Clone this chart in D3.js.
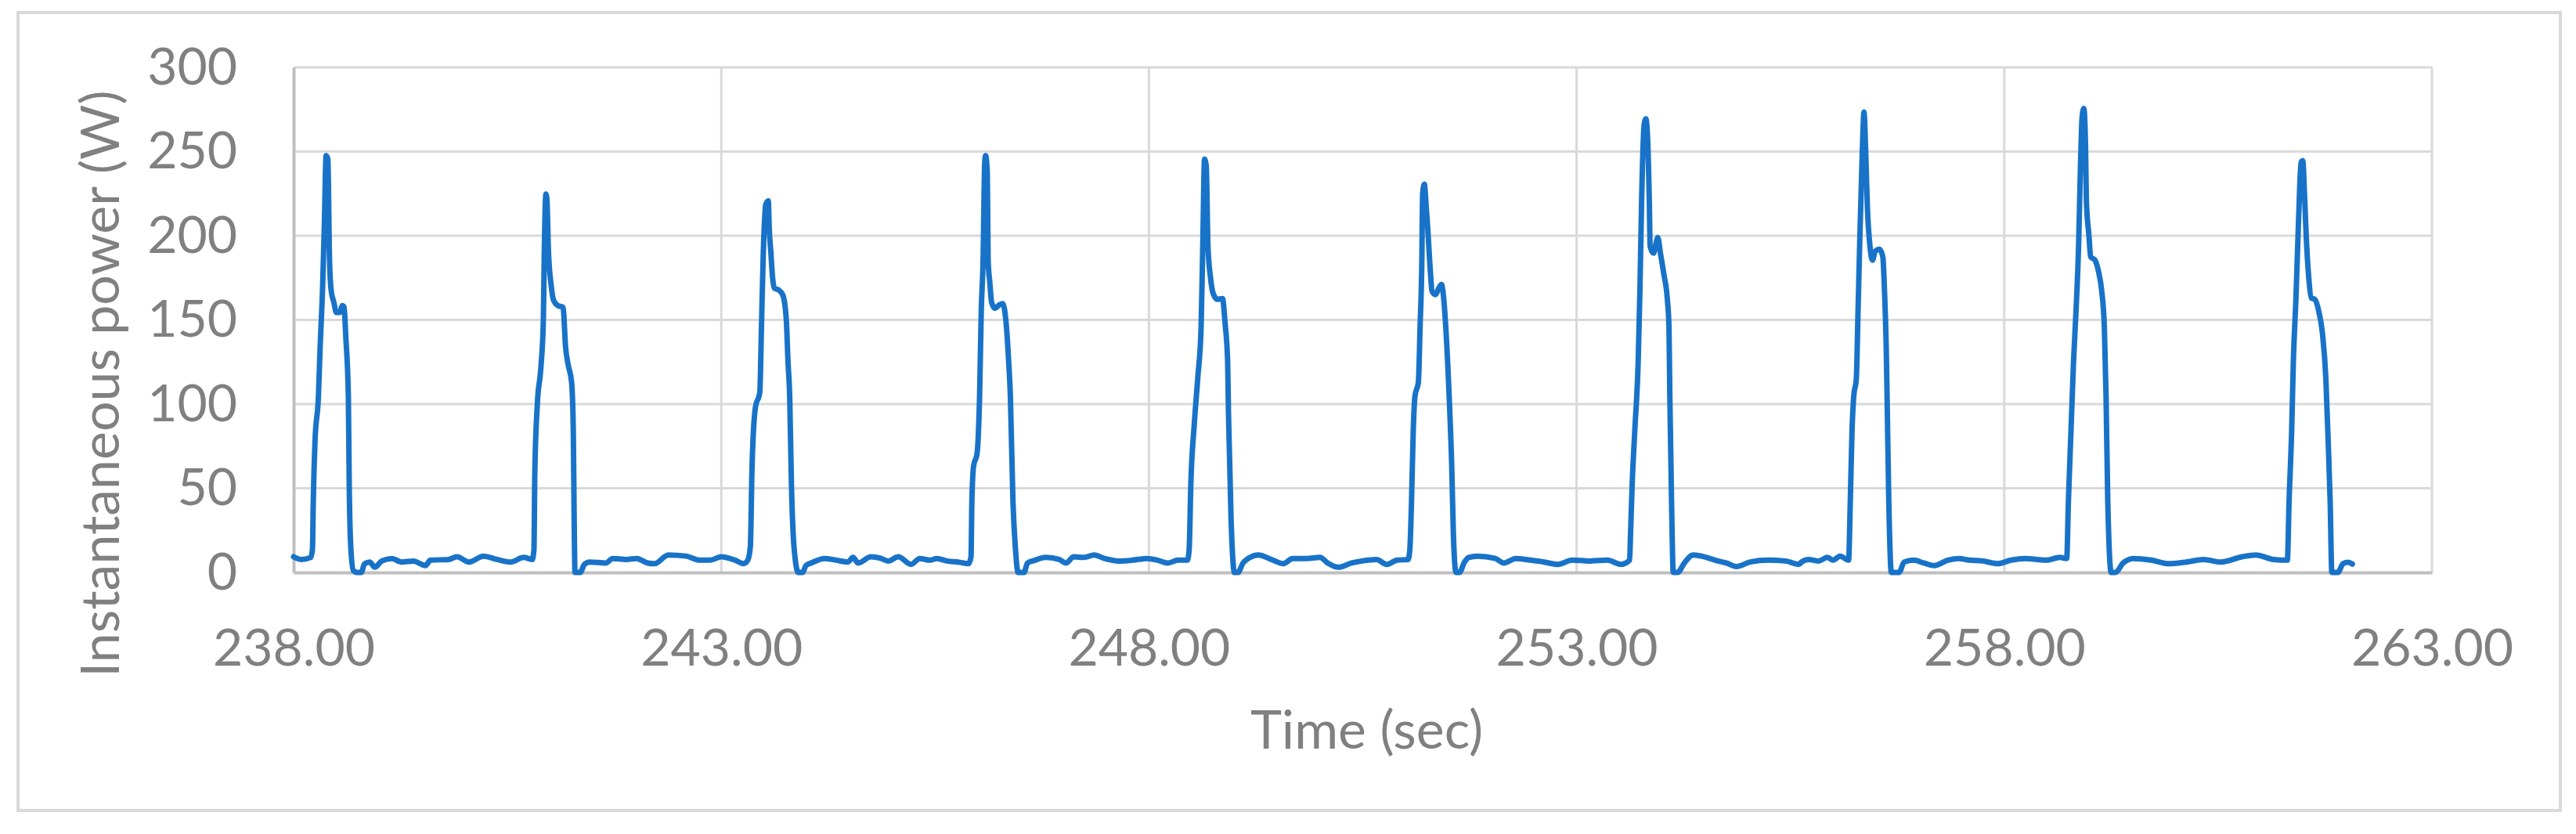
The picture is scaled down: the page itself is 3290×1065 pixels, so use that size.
<!DOCTYPE html>
<html>
<head>
<meta charset="utf-8">
<script src="https://cdn.jsdelivr.net/npm/d3@7/dist/d3.min.js"></script>
<style>
  html, body { margin: 0; padding: 0; background: #ffffff; }
  svg { display: block; }
  text { font-family: Lato, "Open Sans", sans-serif; fill: #808080; }
</style>
</head>
<body>
<svg id="chart" width="3290" height="1065"></svg>
<script>
// ---- data ----
const xTicks = [238, 243, 248, 253, 258, 263];
const yTicks = [0, 50, 100, 150, 200, 250, 300];
const xLabel = "Time (sec)";
const yLabel = "Instantaneous power (W)";

const timeSec = [
  238.00,238.09,238.20,238.22,238.23,238.25,238.29,238.31,238.34,238.36,238.38,238.40,238.42,238.44,238.47,238.50,238.54,238.57,238.59,238.61,238.64,238.65,238.67,238.70,238.74,238.79,238.83,238.89,238.95,239.03,239.15,239.26,239.40,239.54,239.60,239.81,239.91,240.05,240.22,240.38,240.54,240.69,240.79,
  240.81,240.82,240.85,240.89,240.92,240.93,240.95,240.96,240.98,241.01,241.04,241.09,241.15,241.18,241.21,241.25,241.27,241.28,241.29,241.35,241.40,241.46,241.65,241.73,241.89,242.01,242.14,242.22,242.38,242.59,242.75,242.87,243.00,243.16,243.26,
  243.31,243.34,243.36,243.40,243.45,243.47,243.49,243.52,243.55,243.56,243.58,243.60,243.62,243.67,243.72,243.76,243.78,243.80,243.82,243.85,243.90,243.95,243.99,244.05,244.21,244.34,244.48,244.54,244.60,244.75,244.87,244.95,245.07,245.22,245.32,245.44,245.52,245.64,245.77,245.89,
  245.92,245.93,245.95,245.99,246.02,246.04,246.06,246.08,246.09,246.11,246.12,246.14,246.16,246.20,246.25,246.29,246.33,246.36,246.38,246.41,246.44,246.47,246.54,246.58,246.67,246.79,246.95,247.03,247.12,247.24,247.36,247.48,247.65,247.81,247.98,248.10,248.22,248.34,248.45,
  248.47,248.49,248.53,248.57,248.61,248.63,248.65,248.67,248.69,248.72,248.75,248.80,248.86,248.89,248.92,248.93,248.96,249.00,249.04,249.10,249.16,249.28,249.45,249.57,249.68,249.84,250.00,250.09,250.21,250.37,250.49,250.66,250.78,250.90,251.03,
  251.05,251.07,251.09,251.11,251.15,251.17,251.19,251.20,251.22,251.24,251.26,251.29,251.31,251.35,251.39,251.42,251.45,251.47,251.51,251.54,251.56,251.59,251.63,251.69,251.74,251.84,252.05,252.15,252.29,252.46,252.62,252.78,252.95,253.15,253.36,253.52,253.62,
  253.63,253.65,253.68,253.72,253.74,253.76,253.79,253.81,253.83,253.85,253.86,253.90,253.93,253.95,253.98,254.02,254.06,254.08,254.09,254.11,254.13,254.18,254.26,254.36,254.46,254.62,254.75,254.87,255.03,255.24,255.44,255.60,255.63,255.71,255.83,255.93,256.00,256.08,256.18,
  256.20,256.22,256.24,256.27,256.29,256.31,256.34,256.36,256.38,256.40,256.43,256.46,256.49,256.54,256.58,256.60,256.62,256.63,256.65,256.68,256.77,256.83,256.94,257.06,257.18,257.34,257.47,257.59,257.75,257.92,258.08,258.24,258.49,258.65,258.73,
  258.75,258.78,258.81,258.84,258.87,258.89,258.91,258.93,258.95,258.96,258.99,259.01,259.06,259.10,259.14,259.17,259.19,259.21,259.25,259.30,259.39,259.51,259.72,259.92,260.13,260.33,260.53,260.78,260.94,261.15,261.31,
  261.33,261.36,261.38,261.41,261.44,261.47,261.49,261.51,261.53,261.56,261.59,261.63,261.68,261.72,261.76,261.79,261.81,261.83,261.90,261.96,262.02,262.07
];

const powerW = [
  9.3,7.7,8.9,13.5,42.5,77.7,104.6,133.6,171,208,247.6,245.5,185,167,160.6,154.4,154.4,158.5,157.5,140,104.6,52.8,13.5,1,0,0,5.2,6.2,3.1,6.8,8.3,6.2,6.8,4.1,7.3,7.7,9.3,6.2,9.7,7.7,6.2,8.9,7.7,
  13.5,59,100.5,121,150,187.5,224.8,222.8,190,171,161.6,158.5,157.5,133.6,123.3,113,84,32,0,0,4.8,6.2,5.6,8.3,7.7,8.3,5.6,5.2,10.4,9.7,7.3,7.3,9.3,7.3,5.2,
  7.3,15.5,63.2,98.4,106.7,146,187.5,218.6,220.7,205,190,175,168.9,167.8,164.7,150.2,125.4,104.6,52.8,15.5,0,0,4.1,5.6,8.3,7.3,6.2,8.9,5.6,9.3,8.3,6.8,9.3,4.8,8.3,7.3,8.3,6.8,6.2,5.2,
  9.3,42.5,63.2,70.5,104.6,156.4,183.4,243.5,247.6,237.3,185,172,160.6,156.9,158.9,159.6,148.2,125.4,104.6,42.5,13.5,0,0,5.6,7.3,8.9,7.7,5.6,9.3,8.9,10.4,8.3,6.8,7.3,8.3,7.3,5.6,7.3,7.3,
  13.5,52.8,88,115,146,195.8,245.5,241.4,193.7,175,165.8,162.2,162.7,148.2,125.4,94.3,32.1,0,0,5.6,8.3,10.4,7.3,5.2,8.3,8.3,8.9,5.6,3.1,5.6,6.8,7.7,4.8,7.3,7.7,
  13.5,42.5,84,104.6,113,146,183.4,224.8,230.6,218.6,204,179,167,165,169,171,160.6,146,104.6,63.2,21.8,0,0,6.2,8.9,9.7,8.3,5.6,8.3,7.3,6.2,4.8,7.3,6.8,7.3,4.8,7.3,
  21.8,52.8,84,125.4,166.8,220.7,266,269.4,258,220.7,193.7,189.6,195.8,198.9,189.6,177.2,162.7,146,104.6,42.5,0,0,5.6,10.4,9.7,7.3,5.6,3.5,6.2,7.3,6.8,4.8,6.2,7.7,6.8,8.9,7.3,9.7,7.3,
  42.5,84,104.6,115,154.4,195.8,249.7,273.5,249.7,216.5,193.7,185.5,190.6,192,187.5,166.8,133.6,104.6,42.5,0,0,6.2,7.3,5.6,4.1,7.3,8.3,7.3,6.8,5.2,7.3,8.3,7.3,8.9,8.3,
  42.5,84,125.4,156.4,195.8,239.3,270.4,275.6,253.8,220.7,200,187.5,185.5,179.2,166.8,146,104.6,42.5,0,0,5.6,8.3,7.3,5.2,6.2,7.7,6.2,9.3,10.4,7.7,7.3,
  42.5,84,125.4,162.7,208.2,243.5,244.5,225,200,175,163,162.2,154.4,142,115,73.6,42.5,0,0,5.2,6,5
];

// ---- layout ----
const plot = { left: 375, right: 3106, top: 86, bottom: 731 };
const FONT = "Lato, 'Open Sans', sans-serif";

const svg = d3.select("#chart");

// outer chart border
svg.append("rect")
  .attr("x", 23).attr("y", 16)
  .attr("width", 3247).attr("height", 1019)
  .attr("fill", "#ffffff")
  .attr("stroke", "#d9d9d9")
  .attr("stroke-width", 4);

const x = d3.scaleLinear().domain([238, 263]).range([plot.left, plot.right]);
const y = d3.scaleLinear().domain([0, 300]).range([plot.bottom, plot.top]);

// horizontal gridlines
svg.append("g")
  .selectAll("line")
  .data(yTicks.filter(d => d > 0))
  .join("line")
  .attr("x1", plot.left).attr("x2", plot.right)
  .attr("y1", d => y(d)).attr("y2", d => y(d))
  .attr("stroke", "#d9d9d9").attr("stroke-width", 3);

// vertical gridlines
svg.append("g")
  .selectAll("line")
  .data(xTicks.filter(d => d > 238))
  .join("line")
  .attr("x1", d => x(d)).attr("x2", d => x(d))
  .attr("y1", plot.top).attr("y2", plot.bottom)
  .attr("stroke", "#d9d9d9").attr("stroke-width", 3);

// axes
const yAxis = d3.axisLeft(y).tickValues(yTicks).tickSize(0).tickPadding(72).tickFormat(d3.format("d"));
const gy = svg.append("g").attr("transform", `translate(${plot.left},0)`).call(yAxis);
gy.select(".domain").attr("stroke", "#bfbfbf").attr("stroke-width", 4);
gy.selectAll("text").attr("font-size", 66).attr("fill", "#808080").attr("font-family", FONT);

const xAxis = d3.axisBottom(x).tickValues(xTicks).tickSize(0).tickPadding(72).tickFormat(d3.format(".2f"));
const gx = svg.append("g").attr("transform", `translate(0,${plot.bottom})`).call(xAxis);
gx.select(".domain").attr("stroke", "#bfbfbf").attr("stroke-width", 4);
gx.selectAll("text").attr("font-size", 66).attr("fill", "#808080").attr("font-family", FONT)
  .attr("dy", "0.71em");

// data line
const data = timeSec.map((t, i) => ({ t, v: powerW[i] }));
const line = d3.line().x(d => x(d.t)).y(d => y(d.v)).curve(d3.curveMonotoneX);
svg.append("path")
  .datum(data)
  .attr("d", line)
  .attr("fill", "none")
  .attr("stroke", "#1873c8")
  .attr("stroke-width", 7)
  .attr("stroke-linejoin", "round")
  .attr("stroke-linecap", "round");

// axis titles
svg.append("text")
  .attr("x", (plot.left + plot.right) / 2 + 5)
  .attr("y", 956)
  .attr("text-anchor", "middle")
  .attr("font-size", 68)
  .attr("font-family", FONT)
  .text(xLabel);

const yt = svg.append("text")
  .attr("transform", `translate(154,490) rotate(-90)`)
  .attr("text-anchor", "middle")
  .attr("font-size", 68)
  .attr("font-family", FONT)
  .text(yLabel);
// align the rotated title so its right edge sits at x=166, centred at y=490
const bb = yt.node().getBoundingClientRect();
const shiftX = 166 - bb.right;
yt.attr("transform", `translate(${154 + shiftX},490) rotate(-90)`);
</script>
</body>
</html>
